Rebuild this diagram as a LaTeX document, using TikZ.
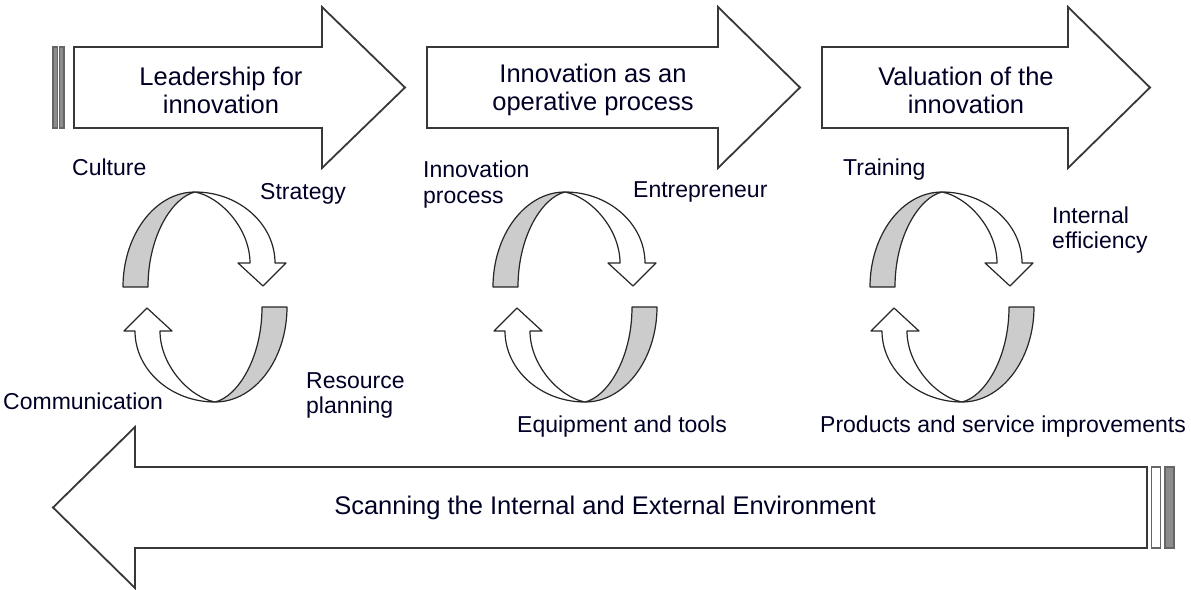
\documentclass[tikz,border=0pt]{standalone}
\usepackage{fontspec}
\setmainfont{Liberation Sans}
\begin{document}
\begin{tikzpicture}[x=1pt,y=-1pt,
  bigarrow/.style={draw=black!78,line width=1.8pt,fill=white,line join=miter},
  stripe/.style={draw=black!60,line width=1.4pt,fill=black!45},
  stripew/.style={draw=black!60,line width=1.4pt,fill=white},
  band/.style={draw=black!85,line width=1.2pt,fill=black!20,line join=round},
  bandw/.style={draw=black!85,line width=1.2pt,fill=white,line join=round},
  lbl/.style={inner sep=0pt,anchor=base west,text=black!85!blue,font=\fontsize{23}{27}\selectfont},
  atxt/.style={inner sep=0pt,align=center,text=black!85!blue,font=\fontsize{25.5}{28}\selectfont}]
\useasboundingbox (0,0) rectangle (1191,589);

% ---- top arrows ----
\draw[stripe] (53,47) rectangle (57.5,128);
\draw[stripe] (59.5,47) rectangle (64,128);
\draw[bigarrow] (74,47) -- (322,47) -- (322,7) -- (405,87.5) -- (322,168) -- (322,128) -- (74,128) -- cycle;
\draw[bigarrow] (427,47) -- (718,47) -- (718,7) -- (800,87.5) -- (718,168) -- (718,128) -- (427,128) -- cycle;
\draw[bigarrow] (822,47) -- (1068,47) -- (1068,7) -- (1150,87.5) -- (1068,168) -- (1068,128) -- (822,128) -- cycle;

\node[atxt] (a1) at (221,90) {Leadership for\\innovation};
\node[atxt] (a2) at (593,90) {Innovation as an\\operative process};
\node[atxt] (a3) at (966,90) {Valuation of the\\innovation};

% ---- bottom arrow ----
\draw[bigarrow] (1147,467) -- (135,467) -- (135,427) -- (53,507.5) -- (135,588) -- (135,548) -- (1147,548) -- cycle;
\draw[stripew] (1151.5,467) rectangle (1160.5,548);
\draw[stripe] (1165,467) rectangle (1174,548);
\node[atxt] (scan) at (605,508) {Scanning the Internal and External Environment};

% ---- cycle glyph ----
\newcommand{\halfcycle}{%
  \draw[band] (-82,-10) .. controls (-82,-62) and (-50,-105) .. (-10,-105)
     .. controls (-32,-100) and (-57,-62) .. (-57,-10) -- cycle;
  \draw[bandw] (-10,-105) .. controls (34,-105) and (70,-73) .. (70,-34)
     -- (81,-34) -- (58,-11) -- (33,-34) -- (45,-34)
     .. controls (45,-68) and (16,-100) .. (-10,-105) -- cycle;}
\newcommand{\cyclegl}[1]{%
  \begin{scope}[shift={#1}]\halfcycle\end{scope}
  \begin{scope}[shift={#1},rotate=180]\halfcycle\end{scope}}
\cyclegl{(205,297)}
\cyclegl{(575,297)}
\cyclegl{(952,297)}

% ---- labels ----
\node[lbl] (culture) at (72,175) {Culture};
\node[lbl] (strategy) at (260,199) {Strategy};
\node[lbl] (comm) at (3,409) {Communication};
\node[lbl] (res1) at (306,388) {Resource};
\node[lbl] (res2) at (306,413) {planning};
\node[lbl] (inn1) at (423,177) {Innovation};
\node[lbl] (inn2) at (423,203) {process};
\node[lbl] (entre) at (633,197) {Entrepreneur};
\node[lbl] (train) at (843,175) {Training};
\node[lbl] (int1) at (1052,223) {Internal};
\node[lbl] (int2) at (1052,248) {efficiency};
\node[lbl] (equip) at (517,432) {Equipment and tools};
\node[lbl] (prod) at (820,432) {Products and service improvements};
\end{tikzpicture}
\end{document}
